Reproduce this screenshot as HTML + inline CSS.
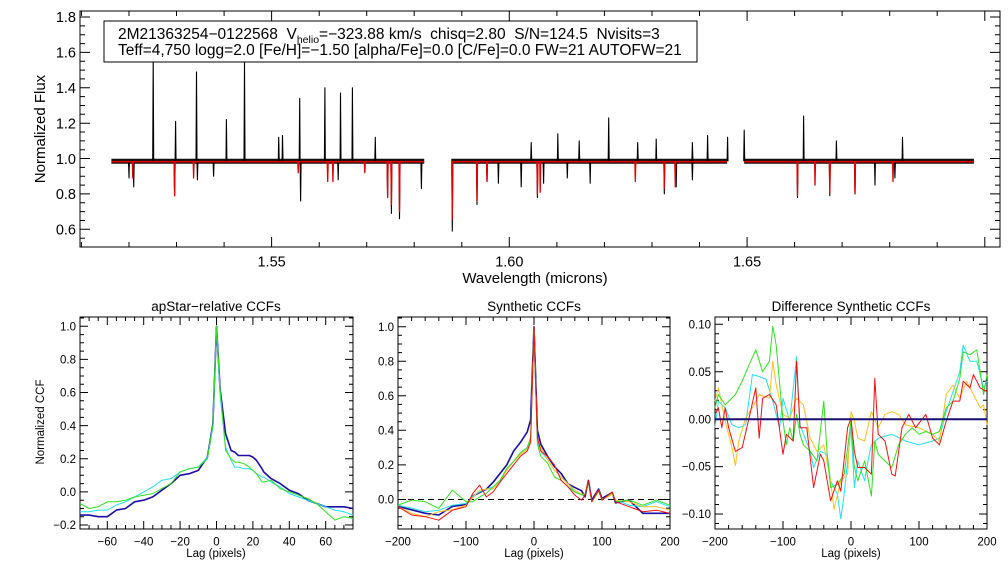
<!DOCTYPE html>
<html><head><meta charset="utf-8"><style>
body{margin:0;background:#fff;font-family:"Liberation Sans",sans-serif}
svg{display:block}
text{font-family:"Liberation Sans",sans-serif;fill:#000;white-space:pre}
</style></head><body>
<svg id="fig" width="1008" height="576" viewBox="0 0 1008 576" xmlns="http://www.w3.org/2000/svg">
<rect width="1008" height="576" fill="#fff"/>
<g id="g"></g>
<g>
<rect x="104" y="21" width="593" height="41" fill="#fff" stroke="#000" stroke-width="1"/>
<text x="118" y="39" font-size="15.5" xml:space="preserve">2M21363254−0122568  V<tspan font-size="10.5" dy="4">helio</tspan><tspan dy="-4">=−323.88 km/s  chisq=2.80  S/N=124.5  Nvisits=3</tspan></text>
<text x="118" y="55" font-size="15.5">Teff=4,750 logg=2.0 [Fe/H]=−1.50 [alpha/Fe]=0.0 [C/Fe]=0.0 FW=21 AUTOFW=21</text>
</g>
</svg>
<script>
// ---- spectrum data ----
const specSegments=[[1.5163,1.5821],[1.5878,1.6458],[1.6494,1.6977]];
const contBlack=0.985, contRed=0.982;
const emissionWl=[1.5251,1.5298,1.5342,1.5405,1.5443,1.5515,1.5523,1.5559,1.5612,1.5645,1.5670,1.5718,1.6046,1.6102,1.6147,1.6209,1.6270,1.6309,1.6385,1.6417,1.6459,1.6494,1.6619,1.6688,1.6827];
const emissionPk=[1.56,1.21,1.49,1.22,1.55,1.12,1.13,1.34,1.40,1.37,1.40,1.12,1.09,1.14,1.10,1.23,1.09,1.11,1.09,1.13,1.12,1.16,1.24,1.10,1.12];
const absBlackWl=[1.5200,1.5210,1.5296,1.5344,1.5378,1.5561,1.5640,1.5744,1.5752,1.5769,1.5815,1.5880,1.5932,1.5953,1.5977,1.6025,1.6059,1.6072,1.6122,1.6170,1.6326,1.6351,1.6385,1.6606,1.6674,1.6727,1.6769,1.6811];
const absBlackVal=[0.89,0.84,0.79,0.88,0.90,0.76,0.88,0.78,0.69,0.66,0.83,0.59,0.74,0.87,0.86,0.84,0.78,0.86,0.89,0.86,0.80,0.84,0.88,0.78,0.79,0.80,0.85,0.89];
const absRedWl=[1.5208,1.5296,1.5336,1.5556,1.5618,1.5629,1.5696,1.5744,1.5752,1.5769,1.5880,1.5932,1.5953,1.6059,1.6065,1.6265,1.6326,1.6349,1.6606,1.6643,1.6674,1.6727,1.6807];
const absRedVal=[0.89,0.79,0.89,0.92,0.87,0.87,0.92,0.78,0.74,0.70,0.66,0.76,0.87,0.80,0.81,0.87,0.83,0.84,0.79,0.85,0.80,0.80,0.87];
// ---- CCF panel 1 ----
const p1Lag=[-75,-70,-65,-60,-55,-50,-45,-40,-35,-30,-25,-20,-15,-10,-5,-2,0,2,5,8,10,12,15,18,20,22,25,26,30,35,40,45,50,55,60,65,70,75];
const p1Blue=[-0.14,-0.14,-0.15,-0.15,-0.11,-0.10,-0.06,-0.05,-0.03,0.01,0.05,0.10,0.11,0.13,0.21,0.41,1.0,0.62,0.35,0.25,0.24,0.22,0.22,0.22,0.21,0.19,0.14,0.12,0.08,0.05,0.01,-0.01,-0.05,-0.07,-0.09,-0.09,-0.09,-0.10];
const p1Cyan=[-0.12,-0.12,-0.11,-0.11,-0.08,-0.06,-0.03,0.00,0.03,0.07,0.08,0.12,0.14,0.15,0.21,0.40,1.0,0.58,0.27,0.19,0.15,0.15,0.14,0.14,0.13,0.11,0.09,0.09,0.06,0.03,-0.01,-0.03,-0.05,-0.07,-0.09,-0.11,-0.12,-0.14];
const p1Green=[-0.07,-0.10,-0.09,-0.06,-0.06,-0.05,-0.03,-0.02,-0.01,0.02,0.05,0.12,0.14,0.15,0.20,0.40,1.0,0.62,0.25,0.20,0.18,0.18,0.17,0.15,0.13,0.11,0.06,0.06,0.07,0.02,0.00,-0.02,-0.04,-0.07,-0.12,-0.17,-0.15,-0.16];
// ---- CCF panel 2 ----
const p2Lag=[-200,-180,-160,-140,-120,-100,-90,-80,-70,-60,-50,-40,-30,-20,-10,-5,0,5,10,20,30,40,50,60,70,75,80,85,95,100,115,120,140,160,180,200];
const p2Blue=[-0.04,-0.06,-0.08,-0.09,-0.04,-0.03,0.02,0.04,0.06,0.10,0.15,0.20,0.28,0.33,0.39,0.46,1.0,0.40,0.32,0.25,0.19,0.15,0.09,0.07,0.05,0.015,0.11,-0.004,0.06,0.006,0.04,-0.02,-0.004,-0.08,-0.08,-0.08];
const p2Green=[-0.033,-0.004,-0.013,-0.052,0.054,-0.013,-0.013,0.015,0.035,0.073,0.11,0.18,0.22,0.27,0.30,0.36,1.0,0.32,0.25,0.21,0.13,0.11,0.073,0.044,0.025,0.03,0.10,-0.013,0.054,-0.004,0.04,-0.013,-0.004,-0.033,-0.004,-0.033];
const p2Red=[-0.042,-0.09,-0.10,-0.12,-0.062,-0.042,0.035,0.083,0.015,0.044,0.10,0.15,0.20,0.25,0.28,0.33,1.0,0.36,0.28,0.25,0.20,0.11,0.073,0.025,-0.004,0.025,0.108,-0.013,0.054,-0.004,0.044,-0.013,-0.042,-0.071,-0.062,-0.081];
const p2Yellow=[-0.042,-0.08,-0.10,-0.071,-0.06,-0.033,0.01,0.054,0.06,0.063,0.10,0.17,0.22,0.26,0.29,0.33,1.0,0.34,0.30,0.23,0.17,0.13,0.09,0.054,0.03,0.03,0.10,-0.013,0.044,0.0,0.03,-0.004,-0.013,-0.042,-0.042,-0.062];
const p2Cyan=[-0.033,-0.05,-0.071,-0.062,-0.033,-0.023,0.02,0.044,0.06,0.073,0.11,0.17,0.22,0.27,0.30,0.35,1.0,0.34,0.28,0.23,0.17,0.13,0.09,0.044,0.03,0.03,0.10,-0.013,0.054,0.0,0.03,-0.004,-0.033,-0.042,-0.013,-0.042];
// ---- CCF panel 3 ----
const p3GreenLag=[-200,-195,-185,-170,-160,-150,-140,-130,-120,-115,-110,-100,-95,-90,-85,-80,-75,-70,-60,-50,-40,-35,-30,-20,-10,0,5,10,20,30,35,40,50,60,70,80,90,100,110,120,130,140,150,160,165,175,185,195,200];
const p3Green=[0.012,0.026,0.015,0.026,0.040,0.057,0.073,0.050,0.061,0.098,0.078,-0.002,-0.027,-0.009,-0.023,0.005,-0.016,-0.027,-0.034,-0.044,0.019,-0.037,-0.072,-0.069,-0.058,-0.002,-0.051,-0.065,-0.044,-0.081,-0.023,-0.037,-0.044,-0.051,-0.027,-0.016,-0.009,-0.016,-0.013,-0.016,-0.013,0.012,0.019,0.043,0.071,0.068,0.073,0.026,0.047];
const p3CyanLag=[-200,-195,-185,-175,-165,-155,-145,-135,-125,-115,-105,-100,-90,-80,-75,-60,-55,-45,-35,-30,-20,-15,-10,0,5,10,20,25,30,40,60,80,100,120,130,140,150,160,165,175,185,195,200];
const p3Cyan=[-0.009,0.019,0.012,-0.006,-0.009,-0.006,0.047,0.045,0.042,0.019,-0.009,0.022,-0.002,0.066,-0.006,-0.034,-0.051,-0.034,-0.037,-0.065,-0.079,-0.105,-0.079,-0.009,-0.072,-0.044,-0.065,-0.044,-0.027,-0.020,-0.016,-0.023,-0.027,-0.023,-0.020,0.008,0.029,0.050,0.078,0.061,0.061,0.033,0.040];
const p3YellowLag=[-200,-195,-185,-175,-170,-165,-155,-145,-135,-120,-115,-110,-100,-90,-80,-70,-60,-50,-40,-30,-25,-15,-5,0,5,10,20,30,40,50,60,70,80,100,120,130,140,150,160,170,180,190,195,200];
const p3Yellow=[0.019,0.033,-0.002,-0.030,-0.049,-0.023,0.001,0.012,0.026,0.022,0.061,0.036,0.005,0.001,0.022,0.015,-0.020,-0.034,-0.027,-0.065,-0.095,-0.065,-0.058,0.008,-0.002,-0.020,-0.023,0.008,-0.009,0.005,0.008,0.005,-0.006,-0.009,-0.016,-0.023,0.026,0.036,0.022,0.040,0.026,0.012,0.015,-0.006];
const p3RedLag=[-200,-195,-190,-185,-180,-170,-160,-150,-140,-135,-130,-120,-110,-100,-95,-85,-80,-75,-65,-55,-45,-40,-30,-20,-15,-5,0,5,10,20,30,35,40,50,60,65,75,85,95,110,120,130,140,150,160,165,175,180,190,200];
const p3Red=[0.005,0.012,-0.009,0.012,-0.009,-0.034,-0.030,0.001,0.033,-0.020,0.022,0.026,0.015,-0.037,-0.016,-0.023,0.061,-0.009,-0.009,-0.072,-0.037,-0.044,-0.086,-0.065,-0.076,-0.009,0.001,-0.034,-0.051,-0.051,-0.058,0.043,-0.016,-0.023,-0.058,-0.060,-0.009,0.005,-0.009,0.005,-0.020,-0.027,-0.002,0.019,0.019,0.040,0.033,0.047,0.033,0.029];
const p3ZeroLag=[-200,200];
const p3Zero=[0,0];

const NS='http://www.w3.org/2000/svg';
const G=document.getElementById('g');
function el(t,a,p){const e=document.createElementNS(NS,t);for(const k in a)e.setAttribute(k,a[k]);(p||G).appendChild(e);return e;}
function scale(d0,d1,r0,r1){return v=>r0+(v-d0)*(r1-r0)/(d1-d0);}

function axes(P){
  const g=el('g',{});
  
  
  el('rect',{x:P.x0,y:P.y0,width:P.x1-P.x0,height:P.y1-P.y0,fill:'none',stroke:'#000','stroke-width':1},g);
  const X=scale(P.xd[0],P.xd[1],P.x0,P.x1),Y=scale(P.yd[0],P.yd[1],P.y1,P.y0);
  let d='';
  const eps=1e-9;
  for(let v=Math.ceil((P.xd[0]-eps)/P.xmin)*P.xmin;v<=P.xd[1]+eps;v+=P.xmin){
    const major=Math.abs(v/P.xmaj-Math.round(v/P.xmaj))<1e-6;const L=major?P.tl:P.tl/2;const px=X(v).toFixed(1);
    d+=`M${px} ${P.y1}v${-L}M${px} ${P.y0}v${L}`;
  }
  for(let v=Math.ceil((P.yd[0]-eps)/P.ymin)*P.ymin;v<=P.yd[1]+eps;v+=P.ymin){
    const major=Math.abs(v/P.ymaj-Math.round(v/P.ymaj))<1e-6;const L=major?P.tl:P.tl/2;const py=Y(v).toFixed(1);
    d+=`M${P.x0} ${py}h${L}M${P.x1} ${py}h${-L}`;
  }
  el('path',{d:d,stroke:'#000','stroke-width':1,fill:'none'},g);
  P.xt.forEach((v,i)=>{const t=el('text',{x:X(v),y:P.y1+P.fs+5,'font-size':P.fs,'text-anchor':'middle'},g);t.textContent=P.xl[i];
    
    });
  P.yt.forEach((v,i)=>{const t=el('text',{x:P.x0-4,y:Y(v)+P.fs*0.36,'font-size':P.fs,'text-anchor':'end'},g);t.textContent=P.yl[i];
    
    });
  return {X,Y,g};
}
function line(A,xs,ys,color,w,name,dash){
  const pts=xs.map((x,i)=>A.X(x).toFixed(1)+','+A.Y(ys[i]).toFixed(1)).join(' ');
  const p=el('polyline',{points:pts,fill:'none',stroke:color,'stroke-width':w,'stroke-linejoin':'round'});
  if(dash)p.setAttribute('stroke-dasharray',dash);
  
  
  return p;
}

// ---- top spectrum ----
const PT={name:'spectrum',x0:80,x1:1000,y0:11,y1:247,xd:[1.5097,1.7032],yd:[0.5,1.834],xmaj:0.05,xmin:0.01,ymaj:0.2,ymin:0.05,tl:10,fs:14.5,
 xt:[1.55,1.60,1.65],xl:['1.55','1.60','1.65'],yt:[0.6,0.8,1.0,1.2,1.4,1.6,1.8],yl:['0.6','0.8','1.0','1.2','1.4','1.6','1.8']};
const AT=axes(PT);
function contPath(cont){
  let d='';
  specSegments.forEach(s=>{d+=`M${AT.X(s[0]).toFixed(1)} ${AT.Y(cont).toFixed(1)}L${AT.X(s[1]).toFixed(1)} ${AT.Y(cont).toFixed(1)}`;});
  return d;
}
function featPath(cont,featWl,featVal,hw){
  let d='';
  featWl.forEach((w,i)=>{d+=`M${AT.X(w-hw).toFixed(1)} ${AT.Y(cont).toFixed(1)}L${AT.X(w).toFixed(1)} ${AT.Y(featVal[i]).toFixed(1)}L${AT.X(w+hw).toFixed(1)} ${AT.Y(cont).toFixed(1)}`;});
  return d;
}
const bw=emissionWl.concat(absBlackWl),bv=emissionPk.concat(absBlackVal);
const sc=el('path',{d:contPath(contBlack),fill:'none',stroke:'#111','stroke-width':5});


const sb=el('path',{d:featPath(contBlack,bw,bv,0.0001),fill:'none',stroke:'#000','stroke-width':1.1,'stroke-linejoin':'round'});


const src=el('path',{d:contPath(contRed),fill:'none',stroke:'#e00000','stroke-width':1.6});


const sr=el('path',{d:featPath(contRed,absRedWl,absRedVal,0.0001),fill:'none',stroke:'#e00000','stroke-width':1.3,'stroke-linejoin':'round'});


let t=el('text',{x:535,y:283,'font-size':15,'text-anchor':'middle'});t.textContent='Wavelength (microns)';


t=el('text',{x:45,y:129,'font-size':15,'text-anchor':'middle',transform:'rotate(-90 45 129)'});t.textContent='Normalized Flux';



// ---- panel 1 ----
const P1={name:'apstar-ccf',x0:80,x1:353,y0:317,y1:529,xd:[-75,75],yd:[-0.224,1.056],xmaj:20,xmin:5,ymaj:0.2,ymin:0.05,tl:8,fs:11.5,
 xt:[-60,-40,-20,0,20,40,60],xl:['−60','−40','−20','0','20','40','60'],yt:[-0.2,0,0.2,0.4,0.6,0.8,1.0],yl:['−0.2','0.0','0.2','0.4','0.6','0.8','1.0']};
const A1=axes(P1);
line(A1,p1Lag,p1Blue,'#1a0fa0',1.6,'ccf1-blue');
line(A1,p1Lag,p1Cyan,'#22e0ee',1,'ccf1-cyan');
line(A1,p1Lag,p1Green,'#30e020',1,'ccf1-green');
// ---- panel 2 ----
const P2={name:'synthetic-ccf',x0:398,x1:670,y0:317,y1:529,xd:[-200,200],yd:[-0.171,1.056],xmaj:100,xmin:20,ymaj:0.2,ymin:0.05,tl:8,fs:11.5,
 xt:[-200,-100,0,100,200],xl:['−200','−100','0','100','200'],yt:[0,0.2,0.4,0.6,0.8,1.0],yl:['0.0','0.2','0.4','0.6','0.8','1.0']};
const A2=axes(P2);
line(A2,[-200,200],[0,0],'#000',1,'ccf2-zero-line','6,4');
line(A2,p2Lag,p2Blue,'#1a0fa0',1.6,'ccf2-blue');
line(A2,p2Lag,p2Cyan,'#22e0ee',1,'ccf2-cyan');
line(A2,p2Lag,p2Yellow,'#ffc020',1,'ccf2-yellow');
line(A2,p2Lag,p2Green,'#30e020',1,'ccf2-green');
line(A2,p2Lag,p2Red,'#f01010',1,'ccf2-red');
// ---- panel 3 ----
const P3={name:'difference-ccf',x0:715,x1:987,y0:317,y1:529,xd:[-200,200],yd:[-0.1158,0.1077],xmaj:100,xmin:20,ymaj:0.05,ymin:0.01,tl:8,fs:11.5,
 xt:[-200,-100,0,100,200],xl:['−200','−100','0','100','200'],yt:[-0.1,-0.05,0,0.05,0.1],yl:['−0.10','−0.05','0.00','0.05','0.10']};
const A3=axes(P3);
line(A3,p3CyanLag,p3Cyan,'#22e0ee',1,'ccf3-cyan');
line(A3,p3YellowLag,p3Yellow,'#ffc020',1,'ccf3-yellow');
line(A3,p3GreenLag,p3Green,'#30e020',1,'ccf3-green');
line(A3,p3RedLag,p3Red,'#f01010',1,'ccf3-red');
line(A3,p3ZeroLag,p3Zero,'#1a0f70',2,'ccf3-zero-line');

// titles
[[216,'apStar−relative CCFs','panel1-title'],[534,'Synthetic CCFs','panel2-title'],[851,'Difference Synthetic CCFs','panel3-title']].forEach(a=>{
  const tt=el('text',{x:a[0],y:311,'font-size':13.5,'text-anchor':'middle'});tt.textContent=a[1];
  
  
  const lx=el('text',{x:a[0],y:557,'font-size':11.5,'text-anchor':'middle'});lx.textContent='Lag (pixels)';
  
  
});
t=el('text',{x:44,y:422,'font-size':11.5,'text-anchor':'middle',transform:'rotate(-90 44 422)'});t.textContent='Normalized CCF';


</script>
</body></html>
